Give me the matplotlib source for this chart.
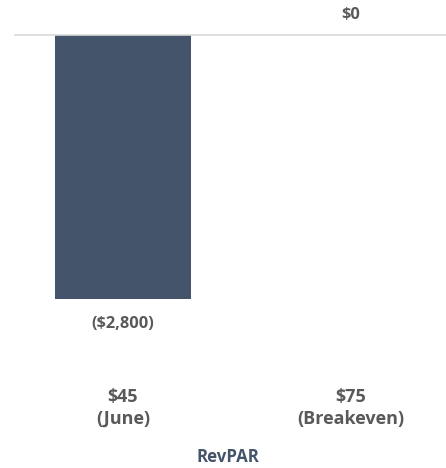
import matplotlib.pyplot as plt

plt.rcParams['font.family'] = ['Open Sans', 'DejaVu Sans']

categories = ["$45\n(June)", "$75\n(Breakeven)"]
values = [-2800, 0]
value_labels = ["($2,800)", "$0"]

W, H = 446, 468
fig = plt.figure(figsize=(W / 100, H / 100), dpi=100)

# axes: x 15..446 px, y 35..370 px
left, right, top, bottom = 15, 446, 35, 370
ax = fig.add_axes([left / W, 1 - bottom / H, (right - left) / W, (bottom - top) / H])

px_per_unit = 228
x0 = 123
ax.set_xlim((left - x0) / px_per_unit, (right - x0) / px_per_unit)
ax.set_ylim(-(bottom - top) / 264 * 2800, 0)

bar_color = "#44546A"
text_color = "#595959"

ax.bar(range(len(values)), values, width=0.6, color=bar_color, zorder=2)
ax.axhline(0, color="#d9d9d9", lw=1.2, zorder=3, clip_on=False)

for i, (v, lab) in enumerate(zip(values, value_labels)):
    if v < 0:
        ax.annotate(lab, (i, v), xytext=(0, -12), textcoords="offset points",
                    ha="center", va="top", fontsize=11.8, fontweight="bold",
                    color=text_color, annotation_clip=False)
    else:
        ax.annotate(lab, (i, v), xytext=(0, 9), textcoords="offset points",
                    ha="center", va="bottom", fontsize=11.8, fontweight="bold",
                    color=text_color, annotation_clip=False)

ax.set_xticks(range(len(categories)))
ax.set_xticklabels(categories, fontsize=13, fontweight="bold", color=text_color,
                   linespacing=1.25)
ax.tick_params(axis="x", length=0, pad=13)
ax.set_yticks([])
for s in ax.spines.values():
    s.set_visible(False)

fig.text(228 / W, 1 - 457 / H, "RevPAR", ha="center", va="center",
         fontsize=12.2, fontweight="bold", color=bar_color)

fig.savefig("out.png", dpi=100)
